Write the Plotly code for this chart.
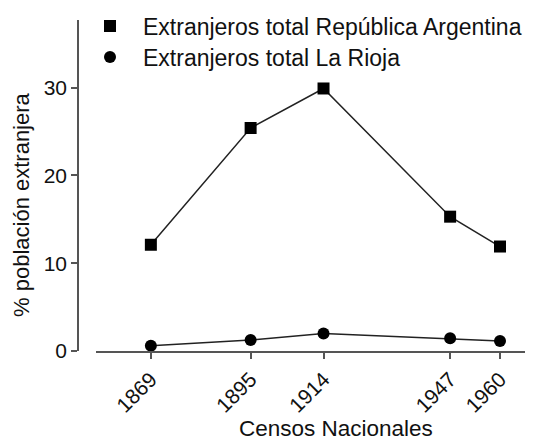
import plotly.graph_objects as go

years = [1869, 1895, 1914, 1947, 1960]
argentina = [12.1, 25.4, 29.9, 15.3, 11.9]
la_rioja = [0.6, 1.25, 2.0, 1.45, 1.15]
y_ticks = [0, 10, 20, 30]
name_arg = "Extranjeros total República Argentina"
name_lr = "Extranjeros total La Rioja"
x_title = "Censos Nacionales"
y_title = "% población extranjera"

FONT = "Liberation Sans"
TXT = "#111111"
AX = "#555555"

# page body has an 8px margin, so the figure is drawn 8px in from the corner
OFF = 8
W, H = 533 - OFF, 439 - OFF
L = 78 - OFF                 # y axis position
Y0 = 351 - OFF               # pixel row of y = 0
B = H - Y0
PW, PH = W - L, Y0


def px(xp):
    return (xp - OFF - L) / PW


def py(yp):
    return (Y0 - (yp - OFF)) / PH


fig = go.Figure()
for vals in [argentina, la_rioja]:
    fig.add_trace(go.Scatter(
        x=years, y=vals, mode="lines", showlegend=False,
        line=dict(color="#222222", width=1.5), hoverinfo="skip"))
for vals, sym, name, lg in [(argentina, "square", name_arg, "legend"),
                            (la_rioja, "circle", name_lr, "legend2")]:
    fig.add_trace(go.Scatter(
        x=years, y=vals, name=name, mode="markers",
        marker=dict(symbol=sym, size=12, color="#000000"),
        cliponaxis=False, legend=lg))

leg_common = dict(xanchor="left", yanchor="middle",
                  font=dict(family=FONT, size=23, color=TXT),
                  bgcolor="rgba(0,0,0,0)", itemwidth=56)

fig.update_layout(
    width=W, height=H,
    margin=dict(l=L, r=0, t=0, b=B, autoexpand=False),
    plot_bgcolor="white", paper_bgcolor="white",
    font=dict(family=FONT, color=TXT),
    showlegend=True,
    legend=dict(x=px(77), y=py(26), **leg_common),
    legend2=dict(x=px(77), y=py(57), **leg_common),
    xaxis=dict(range=[1854.7, 1968.6], domain=[px(96), 1],
               tickvals=years, ticktext=[str(y) for y in years],
               tickangle=-45, ticks="outside", ticklen=6, tickwidth=1.5,
               tickcolor=AX, showline=True, linecolor=AX, automargin=False,
               linewidth=1.5, showgrid=False, zeroline=False,
               tickfont=dict(family=FONT, size=21, color=TXT)),
    yaxis=dict(range=[0, 37.7], domain=[0, py(20)],
               anchor="free", position=0, automargin=False,
               tickvals=y_ticks, ticks="outside", ticklen=6, tickwidth=1.5,
               tickcolor=AX, showline=True, linecolor=AX,
               linewidth=1.5, showgrid=False, zeroline=False,
               tickfont=dict(family=FONT, size=21, color=TXT)),
    annotations=[
        dict(text=x_title, xref="paper", yref="paper",
             x=px(336), y=py(429), xanchor="center", borderpad=0,
             yanchor="middle", showarrow=False,
             font=dict(family=FONT, size=22.5, color=TXT)),
        dict(text=y_title, xref="paper", yref="paper",
             x=px(21), y=py(205), xanchor="center", borderpad=0,
             yanchor="middle", showarrow=False, textangle=-90,
             font=dict(family=FONT, size=22, color=TXT)),
    ],
)

fig.write_html("out.html")
